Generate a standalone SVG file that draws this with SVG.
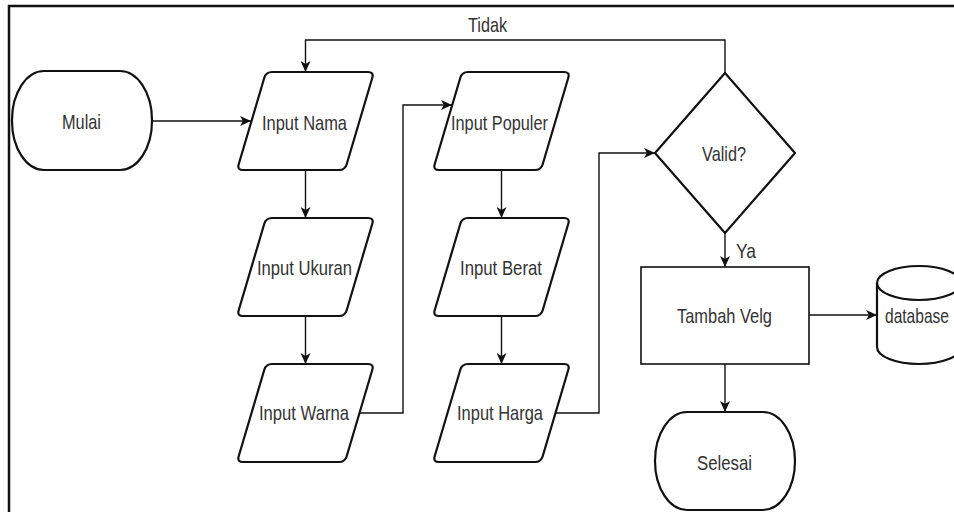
<svg xmlns="http://www.w3.org/2000/svg" xmlns:xlink="http://www.w3.org/1999/xlink" width="954" height="512" viewBox="0 0 954 512">
  <style>
    .shape { fill: #ffffff; stroke: #111111; stroke-width: 2.2; stroke-linejoin: round; }
    .box { fill: #ffffff; stroke: #111111; stroke-width: 1.6; }
    .edge { fill: none; stroke: #111111; stroke-width: 1.4; }
    .frame { fill: none; stroke: #111111; stroke-width: 2.5; }
    text { font-family: "Liberation Sans", Arial, sans-serif; font-size: 21px; fill: #333333; text-anchor: middle; }
  </style>
  <defs>
    <!-- input/output parallelogram, 137 x 98, rounded corners -->
    <path id="io" d="M35,0 L131,0 Q137,0 135.3,5.75 L109.7,92.25 Q108,98 102,98 L6,98 Q0,98 1.7,92.25 L27.3,5.75 Q29,0 35,0 Z"/>
    <marker id="arrow" markerUnits="userSpaceOnUse" markerWidth="12" markerHeight="10" refX="11" refY="5" orient="auto">
      <path d="M0,0 L11,5 L0,10 L3,5 Z" fill="#111111"/>
    </marker>
  </defs>

  <!-- page frame -->
  <rect class="frame" x="9" y="6" width="980" height="540"/>

  <g id="connectors">
    <path class="edge" d="M152,121 L251,121" marker-end="url(#arrow)"/>
    <path class="edge" d="M305.5,170 L305.5,218" marker-end="url(#arrow)"/>
    <path class="edge" d="M305.5,316 L305.5,364" marker-end="url(#arrow)"/>
    <path class="edge" d="M359.5,413 L403,413 L403,105 L452,105" marker-end="url(#arrow)"/>
    <path class="edge" d="M501.5,170 L501.5,218" marker-end="url(#arrow)"/>
    <path class="edge" d="M501.5,316 L501.5,364" marker-end="url(#arrow)"/>
    <path class="edge" d="M555.5,413 L599,413 L599,153 L655,153" marker-end="url(#arrow)"/>
    <path class="edge" d="M725,73 L725,40 L305.5,40 L305.5,72" marker-end="url(#arrow)"/>
    <path class="edge" d="M725,233 L725,267" marker-end="url(#arrow)"/>
    <path class="edge" d="M809,315 L877,315" marker-end="url(#arrow)"/>
    <path class="edge" d="M725,364 L725,412" marker-end="url(#arrow)"/>
    <text x="487.5" y="32" textLength="39" lengthAdjust="spacingAndGlyphs">Tidak</text>
    <text x="746" y="258" textLength="20" lengthAdjust="spacingAndGlyphs">Ya</text>
  </g>

  <g id="mulai">
    <rect class="shape" x="12" y="71" width="140" height="99" rx="32" ry="49"/>
    <text x="81.5" y="129" textLength="39" lengthAdjust="spacingAndGlyphs">Mulai</text>
  </g>

  <g id="input-nama">
    <use xlink:href="#io" class="shape" x="237" y="72"/>
    <text x="304.5" y="130" textLength="85" lengthAdjust="spacingAndGlyphs">Input Nama</text>
  </g>

  <g id="input-ukuran">
    <use xlink:href="#io" class="shape" x="237" y="218"/>
    <text x="304.5" y="275" textLength="95" lengthAdjust="spacingAndGlyphs">Input Ukuran</text>
  </g>

  <g id="input-warna">
    <use xlink:href="#io" class="shape" x="237" y="364"/>
    <text x="304" y="420" textLength="90" lengthAdjust="spacingAndGlyphs">Input Warna</text>
  </g>

  <g id="input-populer">
    <use xlink:href="#io" class="shape" x="433" y="72"/>
    <text x="499.5" y="130" textLength="97" lengthAdjust="spacingAndGlyphs">Input Populer</text>
  </g>

  <g id="input-berat">
    <use xlink:href="#io" class="shape" x="433" y="218"/>
    <text x="501" y="275" textLength="82" lengthAdjust="spacingAndGlyphs">Input Berat</text>
  </g>

  <g id="input-harga">
    <use xlink:href="#io" class="shape" x="433" y="364"/>
    <text x="500" y="420" textLength="86" lengthAdjust="spacingAndGlyphs">Input Harga</text>
  </g>

  <g id="valid">
    <polygon class="shape" points="725,73 795,153 725,233 655,153"/>
    <text x="724" y="161" textLength="44" lengthAdjust="spacingAndGlyphs">Valid?</text>
  </g>

  <g id="tambah-velg">
    <rect class="box" x="641" y="267" width="168" height="97"/>
    <text x="724.5" y="323" textLength="95" lengthAdjust="spacingAndGlyphs">Tambah Velg</text>
  </g>

  <g id="database">
    <path class="shape" d="M877,283 A42,17 0 0 1 961,283 L961,347 A42,17 0 0 1 877,347 Z"/>
    <path class="shape" fill="none" d="M877,283 A42,17 0 0 0 961,283"/>
    <text x="917" y="323" textLength="64" lengthAdjust="spacingAndGlyphs">database</text>
  </g>

  <g id="selesai">
    <rect class="shape" x="655" y="412" width="140" height="98" rx="32" ry="49"/>
    <text x="724.5" y="470" textLength="55" lengthAdjust="spacingAndGlyphs">Selesai</text>
  </g>
</svg>
